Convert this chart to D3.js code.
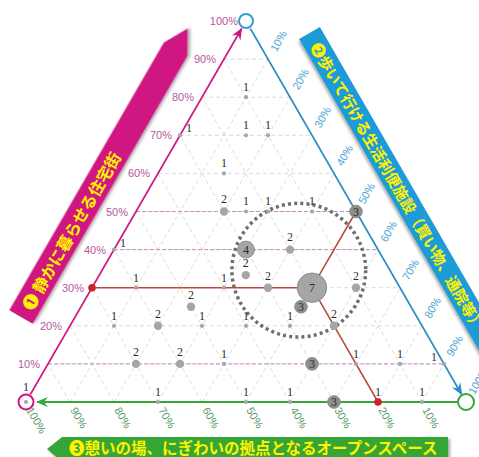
<!DOCTYPE html>
<html>
<head>
<meta charset="utf-8">
<script src="https://cdn.jsdelivr.net/npm/d3@7"></script>
<style>
    html, body { margin: 0; padding: 0; background: #fff; }
    svg { display: block; }
    .grid line { stroke: #d2d2d2; stroke-width: 0.8; stroke-dasharray: 4 3; }
    .level line { stroke: #c884b6; stroke-width: 0.9; stroke-dasharray: 4 2; }
    .count { font-family: "Liberation Serif", "DejaVu Serif", serif; font-size: 12px; }
    .tick { font-family: "Liberation Sans", Arial, sans-serif; font-size: 11px; }
    .banner text { font-family: "Noto Sans CJK JP", sans-serif; font-weight: bold; fill: #fff200; }
</style>
</head>
<body>
<div id="chart"></div>
<script>
const WIDTH = 479;
const HEIGHT = 457;

// share of answers (%) for ① and ②; ③ is whatever is left
const shareA = [0, 0, 0, 0, 0, 0, 0,
    10, 10, 10, 10, 10, 10, 10,
    20, 20, 20, 20, 20, 20,
    25, 25,
    30, 30, 30, 30, 30,
    33.3,
    40, 40, 40,
    50, 50, 50, 50, 50,
    60,
    70, 70, 70,
    80];
const shareB = [0, 30, 50, 60, 70, 80, 90,
    20, 30, 40, 60, 70, 80, 90,
    10, 20, 30, 40, 50, 60,
    25, 50,
    10, 30, 40, 50, 60,
    33.3,
    0, 30, 40,
    20, 25, 30, 40, 50,
    15,
    0, 15, 20,
    10];
const counts = [1, 1, 1, 1, 3, 1, 1,
    2, 2, 1, 3, 1, 1, 1,
    1, 2, 1, 1, 1, 2,
    2, 3,
    1, 1, 2, 7, 2,
    2,
    1, 4, 2,
    2, 1, 1, 1, 3,
    1,
    1, 1, 1,
    1];

const tickValues = [10, 20, 30, 40, 50, 60, 70, 80, 90, 100];
const gridValues = [10, 20, 30, 40, 50, 60, 70, 80, 90];
const levelValues = [10, 40, 50];
const refPoint = [30, 50];          // ①30%, ②50%, ③20%
const focus = [34.6, 44.7, 15.2];   // centre (①, ②) and radius (% of side)

const bannerA = "❶ 静かに暮らせる住宅街";
const bannerB = "❷歩いて行ける生活利便施設（買い物、通院等）";
const bannerC = "❸憩いの場、にぎわいの拠点となるオープンスペース";

const COLOR_A = "#cf1581";
const COLOR_B = "#1e9bd7";
const COLOR_C = "#36a635";

const yScale = d3.scaleLinear().domain([0, 100]).range([402, 21]);
const xScale = d3.scaleLinear().domain([0, 100]).range([26, 466]);
const rScale = d3.scaleLinear().domain([0, 7]).range([0, 14.7]);

// ternary (①, ②) -> pixel
const pos = (a, b) => [xScale(b + a / 2), yScale(a)];

const svg = d3.select("#chart")
    .append("svg")
    .attr("width", WIDTH)
    .attr("height", HEIGHT);

const defs = svg.append("defs");
defs.append("filter")
    .attr("id", "shadow")
    .attr("x", "-20%").attr("y", "-20%").attr("width", "140%").attr("height", "140%")
    .append("feDropShadow")
    .attr("dx", 2).attr("dy", 2).attr("stdDeviation", 1.5)
    .attr("flood-color", "#000").attr("flood-opacity", 0.35);

[["A", COLOR_A], ["B", "#2a8cc4"], ["C", COLOR_C]].forEach(([id, color]) => {
    defs.append("marker")
        .attr("id", "arrow" + id)
        .attr("viewBox", "0 0 12 10")
        .attr("refX", 11).attr("refY", 5)
        .attr("markerWidth", 12).attr("markerHeight", 10)
        .attr("markerUnits", "userSpaceOnUse")
        .attr("orient", "auto")
        .append("path")
        .attr("d", "M0,0 L12,5 L0,10 L4,5 Z")
        .attr("fill", color);
});

// Banners
function banner(transform, points, color, label, size, offset, dy) {
    const g = svg.append("g").attr("class", "banner").attr("transform", transform);
    g.append("polygon")
        .attr("points", points.map(p => p.join(",")).join(" "))
        .attr("fill", color)
        .attr("filter", "url(#shadow)");
    g.append("text")
        .attr("x", offset)
        .attr("y", dy)
        .attr("dominant-baseline", "central")
        .style("font-size", size + "px")
        .text(label);
}

banner("translate(21,317) rotate(-60)",
    [[0, -13.5], [309, -13.5], [333, 0], [309, 13.5], [0, 13.5]],
    COLOR_A, bannerA, 16, 10, 0);
banner("translate(309.5,33) rotate(60)",
    [[0, -12], [380, -12], [380, 12], [0, 12]],
    COLOR_B, bannerB, 15, 12, 0);
banner("translate(47,449)",
    [[0, 0], [15, -12], [401, -12], [401, 13], [15, 13]],
    COLOR_C, bannerC, 15.5, 22, -2);

// Grid
const grid = svg.append("g").attr("class", "grid");
gridValues.forEach(v => {
    [[pos(v, 0), pos(v, 100 - v)],
     [pos(0, v), pos(100 - v, v)],
     [pos(0, 100 - v), pos(100 - v, 0)]].forEach(([p, q]) => {
        grid.append("line")
            .attr("x1", p[0]).attr("y1", p[1])
            .attr("x2", q[0]).attr("y2", q[1]);
    });
});

svg.append("g").attr("class", "level")
    .selectAll("line")
    .data(levelValues)
    .join("line")
    .attr("x1", v => pos(v, 0)[0]).attr("y1", v => pos(v, 0)[1])
    .attr("x2", v => pos(v, 100 - v)[0]).attr("y2", v => pos(v, 100 - v)[1]);

// Axes
function axisLine(from, to, color, marker) {
    svg.append("line")
        .attr("x1", from[0]).attr("y1", from[1])
        .attr("x2", to[0]).attr("y2", to[1])
        .attr("stroke", color)
        .attr("stroke-width", 1.8)
        .attr("marker-end", `url(#arrow${marker})`);
}
axisLine(pos(2, 0), pos(98, 0), COLOR_A, "A");
axisLine(pos(98, 2), pos(2, 98), "#2a8cc4", "B");
axisLine(pos(0, 98), pos(0, 2.5), COLOR_C, "C");

// Tick labels
const ticks = svg.append("g").attr("class", "tick");
tickValues.forEach(v => {
    const [ax, ay] = pos(v, 0);
    ticks.append("text")
        .attr("x", ax - 8).attr("y", ay)
        .attr("text-anchor", "end")
        .attr("dominant-baseline", "central")
        .attr("fill", "#b4589c")
        .text(v + "%");

    const [bx, by] = pos(100 - v, v);
    ticks.append("text")
        .attr("transform", `translate(${bx},${by}) rotate(-60)`)
        .attr("x", 10)
        .attr("dominant-baseline", "central")
        .attr("fill", "#4fa4d4")
        .text(v + "%");

    const [cx, cy] = pos(0, 100 - v);
    ticks.append("text")
        .attr("transform", `translate(${cx},${cy}) rotate(60)`)
        .attr("x", 7)
        .attr("dominant-baseline", "central")
        .attr("fill", "#5a9e6c")
        .text(v + "%");
});

// Reference lines through the most common answer
const [refA, refB] = refPoint;
const refTargets = [pos(refA, 0), pos(100 - refB, refB), pos(0, 100 - (100 - refA - refB))];
const refCentre = pos(refA, refB);
refTargets.forEach(t => {
    svg.append("line")
        .attr("x1", refCentre[0]).attr("y1", refCentre[1])
        .attr("x2", t[0]).attr("y2", t[1])
        .attr("stroke", "#b8493c")
        .attr("stroke-width", 1.5);
});

// Vertex circles
[[pos(100, 0), "#3a9ccc", 7], [pos(0, 0), COLOR_A, 7.5], [pos(0, 100), COLOR_C, 8]].forEach(([p, color, r]) => {
    svg.append("circle")
        .attr("cx", p[0]).attr("cy", p[1]).attr("r", r)
        .attr("fill", "#fff")
        .attr("stroke", color)
        .attr("stroke-width", 2);
});

// Focus circle
const fc = pos(focus[0], focus[1]);
svg.append("circle")
    .attr("cx", fc[0]).attr("cy", fc[1])
    .attr("r", xScale(focus[2]) - xScale(0))
    .attr("fill", "none")
    .attr("stroke", "#6e6e6e")
    .attr("stroke-width", 3.5)
    .attr("stroke-dasharray", "3 3.2");

// Answers
const points = counts.map((n, i) => {
    const [x, y] = pos(shareA[i], shareB[i]);
    return { a: shareA[i], b: shareB[i], n, x, y, r: rScale(n) };
});

const nodes = svg.append("g").selectAll("g")
    .data(points)
    .join("g")
    .attr("transform", d => `translate(${d.x},${d.y})`);

nodes.append("circle")
    .attr("r", d => d.r)
    .attr("fill", d => d.n === 3 ? "#8f8f8f" : "#a6a6a6")
    .attr("stroke", d => d.n >= 3 ? "#8a8a8a" : "none");

// red markers where the reference lines meet the axes
[refTargets[0], refTargets[2]].forEach(t => {
    svg.append("circle")
        .attr("cx", t[0]).attr("cy", t[1]).attr("r", 3.8)
        .attr("fill", "#d0202a");
});

nodes.append("text")
    .attr("class", "count")
    .attr("fill", "#2b2b2b")
    .attr("text-anchor", "middle")
    .attr("x", d => {
        if (d.n >= 3 || (d.a === 0 && d.b === 0)) return 0;
        if (d.b === 0) return 9;
        if (d.a + d.b === 100) return -10;
        return 0;
    })
    .attr("y", d => {
        if (d.n >= 3) return 0;
        if (d.a === 0 && d.b === 0) return -11;
        if (d.b === 0 || d.a + d.b === 100) return -3;
        return -d.r - 4;
    })
    .attr("dominant-baseline", d => d.n >= 3 ? "central" : "auto")
    .text(d => d.n);
</script>
</body>
</html>
